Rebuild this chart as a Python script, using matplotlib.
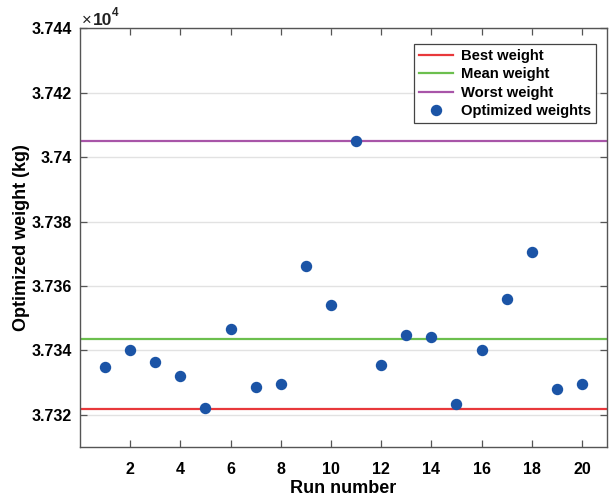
import matplotlib
matplotlib.use("Agg")
import matplotlib.pyplot as plt
from matplotlib.ticker import FuncFormatter
from matplotlib.lines import Line2D

plt.rcParams['font.family'] = ['Liberation Sans', 'DejaVu Sans']

runs = list(range(1, 21))
weights = [37334.8, 37340.0, 37336.4, 37332.1, 37322.0, 37346.6, 37328.7, 37329.5,
           37366.3, 37354.2, 37405.1, 37335.5, 37344.7, 37344.2, 37323.5, 37340.2,
           37355.9, 37370.5, 37328.1, 37329.6]
best_weight = 37321.9
mean_weight = 37343.4
worst_weight = 37405.1

c_red = '#e8383b'
c_green = '#6cbf4e'
c_purple = '#a855a8'
c_blue = '#1b54a6'
axcol = '#555555'

fig = plt.figure(figsize=(6.09, 4.97), dpi=100)
ax = fig.add_axes([80/609, 1-447/497, (607-80)/609, (447-28.3)/497])

ax.axhline(best_weight, color=c_red, lw=1.6, zorder=2)
ax.axhline(mean_weight, color=c_green, lw=1.6, zorder=2)
ax.axhline(worst_weight, color=c_purple, lw=1.6, zorder=2)
ax.plot(runs, weights, 'o', color=c_blue, ms=7.2, zorder=3)

ax.set_xlim(0, 21)
ax.set_ylim(37310, 37440)
ax.set_xticks(range(2, 21, 2))
ax.set_yticks(range(37320, 37441, 20))
ax.yaxis.set_major_formatter(FuncFormatter(lambda v, p: '%g' % round(v/1e4, 4)))
ax.grid(axis='y', color='#e2e2e2', lw=1.0, zorder=0)
ax.set_axisbelow(True)

ax.tick_params(direction='in', length=5, width=0.9, color=axcol, top=True, right=True,
               labelsize=11.5)
ax.tick_params(axis='x', pad=11)
ax.tick_params(axis='y', pad=6)
for lab in ax.get_xticklabels() + ax.get_yticklabels():
    lab.set_fontweight('bold')
for sp in ax.spines.values():
    sp.set_color(axcol)
    sp.set_linewidth(1.0)

ax.set_xlabel('Run number', fontsize=13, fontweight='bold', labelpad=2)
ax.set_ylabel('Optimized weight (kg)', fontsize=13, fontweight='bold', labelpad=1)

# exponent label (x10^4) at top-left of the axes
px = 0.72
ax.annotate('×', xy=(0, 1), xycoords='axes fraction', xytext=(2*px, 3*px),
            textcoords='offset points', fontsize=12, ha='left', va='baseline', color='#222222')
ax.annotate('10', xy=(0, 1), xycoords='axes fraction', xytext=(13*px, 3*px),
            textcoords='offset points', fontsize=12.5, fontweight='bold', ha='left',
            va='baseline', color='#222222')
ax.annotate('4', xy=(0, 1), xycoords='axes fraction', xytext=(32*px, 12*px),
            textcoords='offset points', fontsize=8.5, fontweight='bold', ha='left',
            va='baseline', color='#222222')

handles = [Line2D([], [], color=c_red, lw=1.6),
           Line2D([], [], color=c_green, lw=1.6),
           Line2D([], [], color=c_purple, lw=1.6),
           Line2D([], [], color=c_blue, marker='o', ls='none', ms=7.2)]
leg = ax.legend(handles, ['Best weight', 'Mean weight', 'Worst weight', 'Optimized weights'],
                loc='upper right', bbox_to_anchor=(0.979, 0.963), fancybox=False,
                edgecolor='#444444', framealpha=1, prop={'weight': 'bold', 'size': 10.6},
                handlelength=2.3, handletextpad=0.5, borderpad=0.35, labelspacing=0.3,
                borderaxespad=0)
leg.get_frame().set_linewidth(0.9)

fig.savefig('out.png', dpi=100)
